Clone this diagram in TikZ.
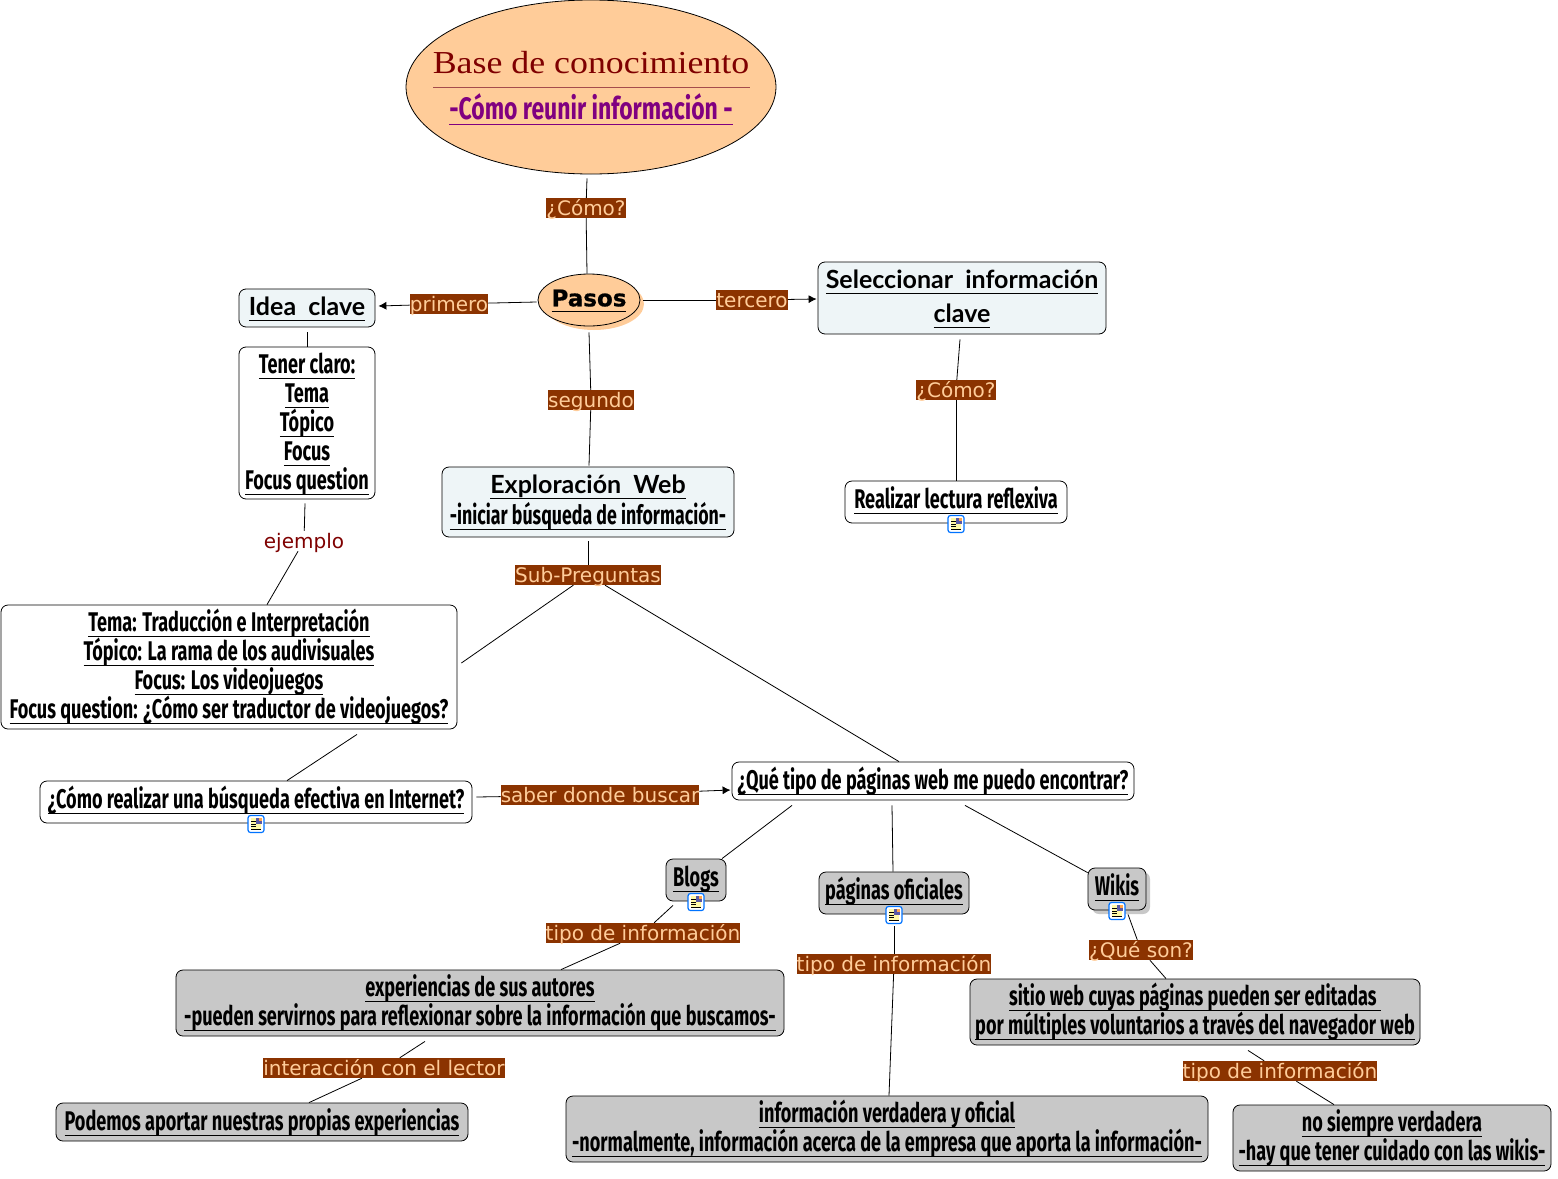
\documentclass[tikz,border=0pt]{standalone}
\usepackage{fontspec}
\setmainfont{Liberation Sans}
\newfontfamily\condfont[FakeStretch=0.67]{Fira Sans}
\newfontfamily\subfont[FakeStretch=0.74]{Fira Sans}
\newfontfamily\headfont[WordSpace=2]{Lato}
\newfontfamily\lblfont{DejaVu Sans}
\newfontfamily\blackfont[FakeBold=0.8]{DejaVu Sans Bold}
\newfontfamily\basefont[FakeStretch=1.12]{Liberation Serif}
\usetikzlibrary{arrows.meta,shapes.geometric}
\definecolor{lightbox}{HTML}{EEF5F7}
\definecolor{greybox}{HTML}{C8C8C8}
\definecolor{peach}{HTML}{FFCC99}
\definecolor{lblfill}{HTML}{8B3300}
\definecolor{lbltext}{HTML}{FFCC99}
\definecolor{darkred}{HTML}{7F0000}
\definecolor{purp}{HTML}{800080}
\lineskiplimit=-50pt
\normallineskiplimit=-50pt
\newcommand{\ulin}[1]{\underline{\smash{#1}\rule[-3.5pt]{0pt}{.94em}}}
\tikzset{
  concept/.style={draw=black,line width=.8pt,rounded corners=7pt,inner sep=0pt,align=center,fill=white},
  keybox/.style={concept,fill=lightbox},
  greyc/.style={concept,fill=greybox},
  body/.style={font=\fontsize{27}{29}\selectfont\condfont\bfseries},
  head/.style={font=\fontsize{25}{34}\selectfont\headfont\bfseries},
  withicon/.style={text depth=9pt},
  lnk/.style={fill=lblfill,text=lbltext,inner sep=0pt,text height=17pt,text depth=3pt,font=\fontsize{20}{24}\selectfont\lblfont},
  conn/.style={line width=.8pt},
  arr/.style={conn,-{Latex[length=8pt,width=8pt]}},
  noteicon/.pic={
    \draw[draw=blue!55!cyan,line width=1.2pt,fill=white,rounded corners=2.5pt] (-8,-8.5) rectangle (8,8.5);
    \fill[yellow!35] (-5,-6) rectangle (5,6);
    \fill[blue!30!gray] (0,-6) rectangle (5.5,0);
    \fill[orange!70] (3,-6) rectangle (5.5,-3.5);
    \foreach \ly in {-3,0,2.5,5} \draw[black,line width=.7pt] (-5,\ly) -- (0,\ly);
    \draw[black,line width=.7pt] (-5,5.5) -- (5,5.5);
  }
}
\begin{document}
\begin{tikzpicture}[x=1pt,y=-1pt]
\useasboundingbox (0,0) rectangle (1558,1178);
\node[ellipse,draw=black,line width=.8pt,fill=peach,minimum width=370pt,minimum height=174pt,inner sep=0pt] (base) at (591,87) {};
\node[font=\fontsize{32}{36}\selectfont\basefont,text=darkred] (basetxt) at (591,63) {Base de conocimiento};
\draw[darkred!70,line width=.8pt] (433,87) -- (750,87);
\node[font=\fontsize{31}{34}\selectfont\subfont\bfseries,text=purp] (basesub) at (591,109) {\ulin{-Cómo reunir información -}};
\fill[peach] (594,304) ellipse (50pt and 26pt);
\node[ellipse,draw=black,line width=.8pt,fill=peach,minimum width=102pt,minimum height=52pt,inner sep=0pt,font=\fontsize{23}{24}\selectfont\blackfont] (pasos) at (589,300) {\makebox[60pt]{\ulin{Pasos}}};
\node[keybox,head,minimum width=136pt,minimum height=38pt] (idea) at (307,308) {\ulin{Idea clave}};
\node[concept,body,minimum width=136pt,minimum height=152pt] (tener) at (307,423) {\ulin{Tener claro:}\\\ulin{Tema}\\\ulin{Tópico}\\\ulin{Focus}\\\ulin{Focus question}};
\node[keybox,head,minimum width=288pt,minimum height=72pt] (selec) at (962,298) {\ulin{Seleccionar información}\\\ulin{clave}};
\node[keybox,minimum width=292pt,minimum height=70pt,font=\fontsize{26.5}{31}\selectfont\condfont\bfseries] (explo) at (588,502) {{\fontsize{25}{31}\selectfont\headfont\bfseries\ulin{Exploración Web}}\\\ulin{-iniciar búsqueda de información-}};
\node[concept,body,withicon,minimum width=222pt,minimum height=42pt] (realizar) at (956,502) {\ulin{Realizar lectura reflexiva}};
\node[concept,body,minimum width=456pt,minimum height=124pt] (tema) at (229,667) {\ulin{Tema: Traducción e Interpretación}\\\ulin{Tópico: La rama de los audivisuales}\\\ulin{Focus: Los videojuegos}\\\ulin{Focus question: ¿Cómo ser traductor de videojuegos?}};
\node[concept,body,withicon,minimum width=432pt,minimum height=42pt] (busq) at (256,802) {\ulin{¿Cómo realizar una búsqueda efectiva en Internet?}};
\node[concept,body,minimum width=402pt,minimum height=38pt] (tipos) at (933,781) {\ulin{¿Qué tipo de páginas web me puedo encontrar?}};
\node[greyc,body,withicon,minimum width=60pt,minimum height=42pt] (blogs) at (696,880) {\ulin{Blogs}};
\node[greyc,body,withicon,minimum width=150pt,minimum height=42pt] (ofic) at (894,893) {\ulin{páginas oficiales}};
\fill[greybox,rounded corners=7pt] (1092,872) rectangle (1150,914);
\node[greyc,body,withicon,minimum width=58pt,minimum height=42pt] (wikis) at (1117,889) {\ulin{Wikis}};
\node[greyc,body,minimum width=608pt,minimum height=66pt] (expe) at (480,1003) {\ulin{experiencias de sus autores}\\\ulin{-pueden servirnos para reflexionar sobre la información que buscamos-}};
\node[greyc,body,minimum width=450pt,minimum height=66pt] (sitio) at (1195,1012) {\ulin{sitio web cuyas páginas pueden ser editadas~}\\\ulin{por múltiples voluntarios a través del navegador web}};
\node[greyc,body,minimum width=412pt,minimum height=38pt] (podemos) at (262,1122) {\ulin{Podemos aportar nuestras propias experiencias}};
\node[greyc,body,minimum width=642pt,minimum height=66pt] (infover) at (887,1129) {\ulin{información verdadera y oficial}\\\ulin{-normalmente, información acerca de la empresa que aporta la información-}};
\node[greyc,body,minimum width=318pt,minimum height=66pt] (nosiem) at (1392,1138) {\ulin{no siempre verdadera}\\\ulin{-hay que tener cuidado con las wikis-}};
\node[lnk] (comoa) at (586,208) {¿Cómo?};
\node[lnk] (primero) at (449,304) {primero};
\node[lnk] (tercero) at (752,300) {tercero};
\node[lnk] (segundo) at (591,400) {segundo};
\node[lnk] (comob) at (956,390) {¿Cómo?};
\node[lnk,fill=white,text=darkred] (ejemplo) at (304,541) {ejemplo};
\node[lnk] (subpreg) at (588,575) {Sub-Preguntas};
\node[lnk] (saber) at (600,795) {saber donde buscar};
\node[lnk] (tipoa) at (643,933) {tipo de información};
\node[lnk] (tipob) at (894,964) {tipo de información};
\node[lnk] (queson) at (1141,950) {¿Qué son?};
\node[lnk] (interac) at (384,1068) {interacción con el lector};
\node[lnk] (tipoc) at (1280,1071) {tipo de información};
\draw[conn] ([xshift=-4pt,yshift=-4pt]base.south) -- (comoa);
\draw[conn] (comoa) -- ([xshift=-2pt]pasos.north);
\draw[conn] ([xshift=-1pt,yshift=-2pt]pasos.west) -- (primero);
\draw[arr] (primero) -- ([xshift=3pt,yshift=2pt]idea.east);
\draw[conn] ([xshift=3pt]pasos.east) -- (tercero);
\draw[arr] (tercero) -- ([xshift=-1pt,yshift=-1pt]selec.west);
\draw[conn] ([yshift=-6pt]pasos.south) -- (segundo);
\draw[conn] (segundo) -- ([xshift=1pt,yshift=1pt]explo.north);
\draw[conn] ([xshift=-2pt,yshift=-5pt]selec.south) -- (comob);
\draw[conn] (comob) -- (realizar.north);
\draw[conn] ([yshift=-5pt]idea.south) -- (tener.north);
\draw[conn] ([xshift=-2pt,yshift=-4pt]tener.south) -- (ejemplo);
\draw[conn] (ejemplo) -- ([xshift=38pt]tema.north);
\draw[conn] ([yshift=-4pt]explo.south) -- (subpreg);
\draw[conn] (subpreg) -- ([xshift=4pt,yshift=4pt]tema.east);
\draw[conn] (subpreg) -- ([xshift=-34pt]tipos.north);
\draw[conn] ([xshift=128pt,yshift=-5pt]tema.south) -- ([xshift=31pt]busq.north);
\draw[conn] ([xshift=4pt,yshift=5pt]busq.east) -- (saber);
\draw[arr] (saber) -- ([xshift=-1pt,yshift=-9pt]tipos.west);
\draw[conn] ([xshift=-141pt,yshift=-5pt]tipos.south) -- ([xshift=26pt]blogs.north);
\draw[conn] ([xshift=-41pt,yshift=-5pt]tipos.south) -- ([xshift=-1pt]ofic.north);
\draw[conn] ([xshift=32pt,yshift=-5pt]tipos.south) -- ([yshift=-5pt]wikis.north west);
\draw[conn] ([xshift=-23pt,yshift=-4pt]blogs.south) -- (tipoa);
\draw[conn] (tipoa) -- ([xshift=81pt]expe.north);
\draw[conn] ([yshift=-12pt]ofic.south) -- (tipob);
\draw[conn] (tipob) -- ([xshift=2pt]infover.north);
\draw[conn] ([xshift=11pt,yshift=-4pt]wikis.south) -- (queson);
\draw[conn] (queson) -- ([xshift=-29pt]sitio.north);
\draw[conn] ([xshift=-55pt,yshift=-5pt]expe.south) -- (interac);
\draw[conn] (interac) -- ([xshift=47pt]podemos.north);
\draw[conn] ([xshift=53pt,yshift=-5pt]sitio.south) -- (tipoc);
\draw[conn] (tipoc) -- ([xshift=-58pt]nosiem.north);
\pic at (956,524) {noteicon};
\pic at (256,824) {noteicon};
\pic at (696,902) {noteicon};
\pic at (894,915) {noteicon};
\pic at (1117,911) {noteicon};
\end{tikzpicture}
\end{document}
